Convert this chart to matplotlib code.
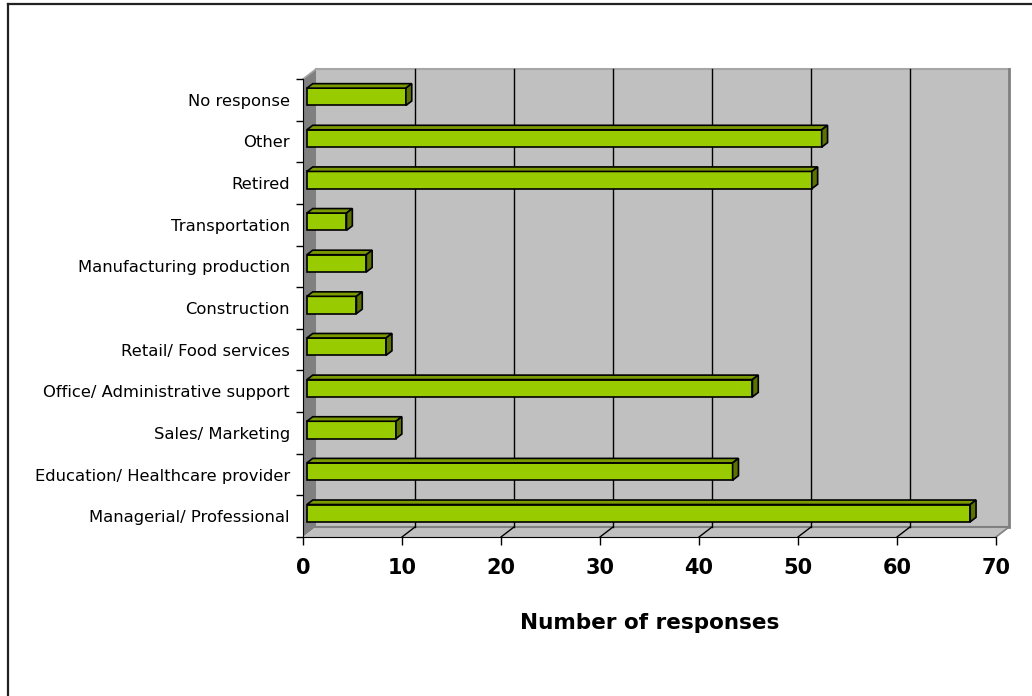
import numpy as np
import matplotlib
matplotlib.use('Agg')
import matplotlib.pyplot as plt
from matplotlib.patches import Polygon
from matplotlib.lines import Line2D

# occupation categories, bottom to top
categories = ['Managerial/ Professional', 'Education/ Healthcare provider',
              'Sales/ Marketing', 'Office/ Administrative support',
              'Retail/ Food services', 'Construction',
              'Manufacturing production', 'Transportation', 'Retired',
              'Other', 'No response']
responses = [67, 43, 9, 45, 8, 5, 6, 4, 51, 52, 10]
xticks = [0, 10, 20, 30, 40, 50, 60, 70]

W, H = 1032, 696
fig = plt.figure(figsize=(W / 100, H / 100), dpi=100)
fig.patch.set_facecolor('white')

# frame round the chart area (only top and left fall inside the image)
fig.add_artist(Line2D([8 / W, 8 / W], [0, 1 - 4 / H], color='#222222', lw=1.6))
fig.add_artist(Line2D([8 / W, 1], [1 - 4 / H, 1 - 4 / H], color='#222222', lw=1.6))

ax = fig.add_axes([303 / W, (H - 537) / H, 693 / W, 458 / H])
ax.set_xlim(0, 70)
ax.set_ylim(-0.5, 10.5)
ax.set_facecolor('none')

n = len(categories)
y0, y1 = -0.5, n - 0.5
x0, x1 = 0, 70
# 3d depth of the walls in data units (13 px right, 10 px up)
DX = 70 / 693 * 13
DY = 11 / 458 * 10

wall = '#c0c0c0'
side = '#808080'
kw = dict(clip_on=False, zorder=0.5)
# back wall
ax.add_patch(Polygon([(x0 + DX, y0 + DY), (x1 + DX, y0 + DY), (x1 + DX, y1 + DY),
                      (x0 + DX, y1 + DY)], closed=True, facecolor=wall, edgecolor='none', **kw))
# left wall
ax.add_patch(Polygon([(x0, y0), (x0 + DX, y0 + DY), (x0 + DX, y1 + DY), (x0, y1)],
                     closed=True, facecolor=side, edgecolor='none', **kw))
# floor
ax.add_patch(Polygon([(x0, y0), (x1, y0), (x1 + DX, y0 + DY), (x0 + DX, y0 + DY)],
                     closed=True, facecolor=wall, edgecolor='none', **kw))
# wall edges
ax.plot([x0 + DX, x1 + DX], [y1 + DY, y1 + DY], color='#a6a6a6', lw=1.5, clip_on=False, zorder=0.8)
ax.plot([x1 + DX, x1 + DX], [y0 + DY, y1 + DY], color='#808080', lw=2, clip_on=False, zorder=0.8)
ax.plot([x0 + DX, x1 + DX], [y0 + DY, y0 + DY], color='#808080', lw=1.5, clip_on=False, zorder=0.8)
ax.plot([x1, x1 + DX], [y0, y0 + DY], color='#808080', lw=1.2, clip_on=False, zorder=0.8)
ax.plot([x0, x0 + DX], [y1, y1 + DY], color='#a6a6a6', lw=1.2, clip_on=False, zorder=0.8)

# gridlines on back wall and floor
for g in xticks[1:-1]:
    ax.plot([g + DX, g + DX], [y0 + DY, y1 + DY], color='black', lw=1, zorder=1, clip_on=False)
    ax.plot([g, g + DX], [y0, y0 + DY], color='black', lw=1, zorder=1, clip_on=False)

# 3d bars
front = '#99cc00'
top = '#7a9a00'
right = '#5c7300'
d0, d1 = 0.3, 0.75
bh = 0.416
ypos = np.arange(n)
ax.barh(ypos + d0 * DY, responses, left=d0 * DX, height=bh, color=front,
        edgecolor='black', lw=1.2, zorder=3, clip_on=False)
ddx, ddy = (d1 - d0) * DX, (d1 - d0) * DY
for yi, v in zip(ypos, responses):
    xl = d0 * DX
    xr = v + d0 * DX
    yt = yi + bh / 2 + d0 * DY
    yb = yi - bh / 2 + d0 * DY
    ax.add_patch(Polygon([(xl, yt), (xr, yt), (xr + ddx, yt + ddy), (xl + ddx, yt + ddy)],
                         closed=True, facecolor=top, edgecolor='black', lw=1.2,
                         zorder=3, clip_on=False))
    ax.add_patch(Polygon([(xr, yb), (xr + ddx, yb + ddy), (xr + ddx, yt + ddy), (xr, yt)],
                         closed=True, facecolor=right, edgecolor='black', lw=1.2,
                         zorder=3, clip_on=False))

# axes
for s in ['top', 'right']:
    ax.spines[s].set_visible(False)
ax.spines['left'].set_color('black')
ax.spines['bottom'].set_color('black')
ax.spines['left'].set_zorder(4)
ax.spines['bottom'].set_zorder(4)

ax.set_yticks(np.arange(-0.5, n, 1.0))
ax.set_yticklabels([])
ax.set_yticks(ypos, minor=True)
ax.set_yticklabels(categories, minor=True, fontsize=11.8, family='DejaVu Sans')
ax.tick_params(axis='y', which='major', length=5, width=1, direction='out')
ax.tick_params(axis='y', which='minor', length=0, pad=9.4)

ax.set_xticks(xticks)
ax.set_xticklabels([str(t) for t in xticks], fontsize=15, fontweight='bold')
ax.tick_params(axis='x', length=6, width=1, direction='out', pad=9)

ax.set_xlabel('Number of responses', fontsize=15.5, fontweight='bold')
ax.xaxis.label.set_va('center')
ax.xaxis.set_label_coords(0.5, (537 - 623) / 458)

fig.savefig('out.png', dpi=100)
